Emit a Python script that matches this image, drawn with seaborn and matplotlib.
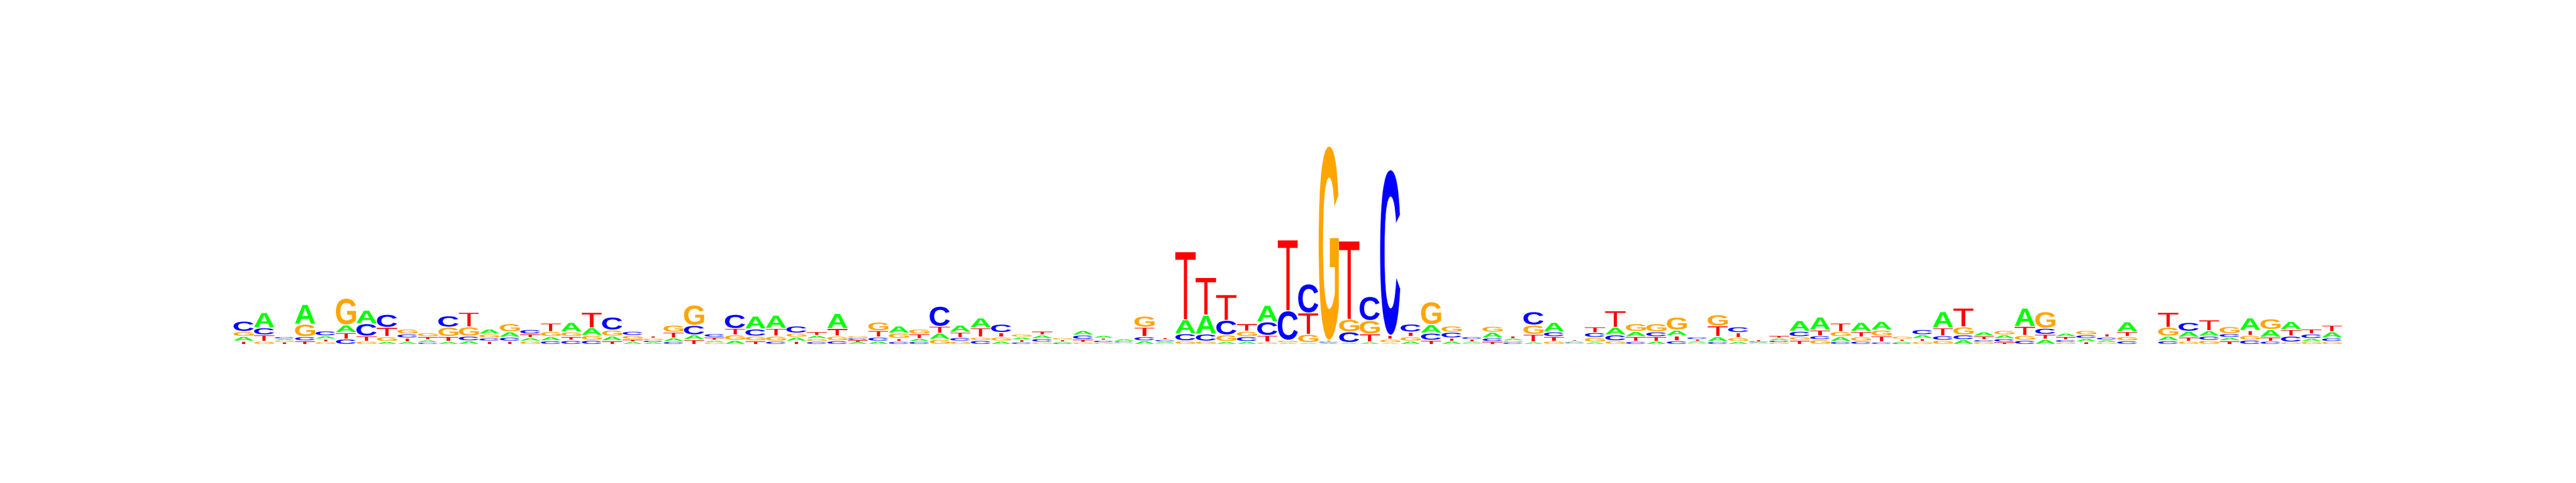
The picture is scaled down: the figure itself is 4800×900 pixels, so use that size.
import numpy as np
import matplotlib
matplotlib.use("Agg")
import matplotlib.pyplot as plt
import seaborn as sns
from matplotlib.textpath import TextPath
from matplotlib.patches import PathPatch
from matplotlib.font_manager import FontProperties
from matplotlib.transforms import Affine2D

sns.set_style("white")

# letter heights per position (same units as the y axis, baseline = 0)
a_h = [26, 85, 10, 110, 18, 42, 75, 10, 9, 13, 10, 14, 28, 30, 19, 23, 53, 43, 26, 9,
       7, 20, 27, 10, 17, 72, 73, 22, 18, 85, 9, 12, 40, 17, 35, 40, 55, 12, 15, 20,
       6, 26, 14, 12, 14, 8, 78, 105, 10, 10, 92, 4, 4, 5, 4, 7, 3, 12, 47, 12,
       6, 32, 11, 7, 53, 6, 7, 43, 29, 12, 32, 9, 28, 10, 4, 12, 60, 73, 27, 51,
       48, 7, 21, 90, 20, 24, 21, 103, 22, 20, 18, 13, 56, 0, 26, 33, 30, 19, 70, 43,
       45, 17, 34]
c_h = [58, 40, 10, 23, 27, 24, 70, 73, 22, 6, 64, 26, 18, 22, 25, 14, 16, 17, 73, 23,
       10, 10, 53, 20, 80, 40, 12, 40, 10, 14, 11, 22, 10, 10, 113, 20, 16, 47, 7, 19,
       4, 24, 11, 7, 23, 10, 40, 40, 82, 27, 76, 165, 163, 6, 60, 135, 925, 45, 40, 32,
       14, 20, 7, 75, 27, 4, 27, 33, 10, 27, 14, 13, 9, 32, 6, 10, 30, 22, 10, 12,
       7, 4, 29, 25, 27, 11, 19, 17, 34, 13, 20, 15, 14, 0, 14, 50, 23, 21, 18, 12,
       33, 25, 20]
g_h = [28, 12, 9, 70, 9, 150, 12, 27, 28, 22, 52, 52, 22, 46, 12, 29, 26, 27, 34, 22,
       12, 40, 114, 7, 30, 26, 28, 23, 16, 26, 12, 49, 30, 28, 22, 12, 18, 23, 17, 7,
       12, 7, 6, 3, 62, 3, 14, 12, 37, 30, 7, 13, 46, 1085, 70, 75, 20, 25, 128, 35,
       5, 33, 10, 52, 12, 3, 26, 14, 44, 46, 73, 4, 63, 22, 3, 7, 20, 20, 29, 24,
       34, 16, 10, 17, 45, 9, 25, 27, 93, 7, 25, 6, 24, 0, 50, 12, 17, 40, 26, 60,
       7, 10, 10]
t_h = [12, 35, 8, 14, 15, 36, 28, 52, 21, 18, 28, 82, 12, 12, 21, 48, 22, 85, 14, 13,
       13, 32, 20, 17, 35, 14, 44, 12, 21, 42, 10, 36, 17, 25, 37, 30, 53, 25, 13, 21,
       10, 15, 13, 3, 53, 12, 380, 210, 143, 42, 37, 397, 119, 6, 438, 45, 22, 26, 17, 18,
       12, 10, 13, 43, 25, 8, 32, 92, 27, 25, 28, 10, 60, 28, 6, 14, 17, 32, 48, 30,
       33, 13, 17, 45, 105, 20, 7, 50, 28, 17, 9, 20, 26, 0, 84, 22, 60, 14, 28, 22,
       37, 28, 38]

letters = ["A", "C", "G", "T"]
colors = {"A": "#00ff00", "C": "#0000ff", "G": "#ffa500", "T": "#ff0000"}

bold = FontProperties(family="Liberation Sans", weight="bold")
regular = FontProperties(family="Liberation Sans", weight="normal")
glyphs = {}
for ch in letters:
    # the T in the logo has a thin bar, closer to the regular cut
    p = TextPath((0, 0), ch, size=1, prop=regular if ch == "T" else bold)
    glyphs[ch] = (p, p.get_extents())


def draw_letter(ax, ch, x, y, w, h):
    p, ext = glyphs[ch]
    tr = (Affine2D().translate(-ext.x0, -ext.y0)
          .scale(w / ext.width, h / ext.height).translate(x, y))
    ax.add_patch(PathPatch(tr.transform_path(p), facecolor=colors[ch],
                           edgecolor="none", lw=0))


fig = plt.figure(figsize=(48, 9), dpi=100)
ax = fig.add_axes([0, 0, 1, 1])

heights = np.array([a_h, c_h, g_h, t_h]).T
for pos, col in enumerate(heights):
    # smallest letter at the bottom, largest on top
    order = np.argsort(col, kind="stable")
    y = 0
    first = True
    for i in order:
        h = col[i]
        if h <= 0:
            continue
        gap = 0 if first else min(6, 0.35 * h)
        draw_letter(ax, letters[i], pos + 0.01, y + gap, 0.98, h - gap)
        y += h
        first = False

ax.set_xlim(-11.40, 114.42)
ax.set_ylim(-778, 1922)
ax.axis("off")

fig.savefig("out.png", dpi=100)
